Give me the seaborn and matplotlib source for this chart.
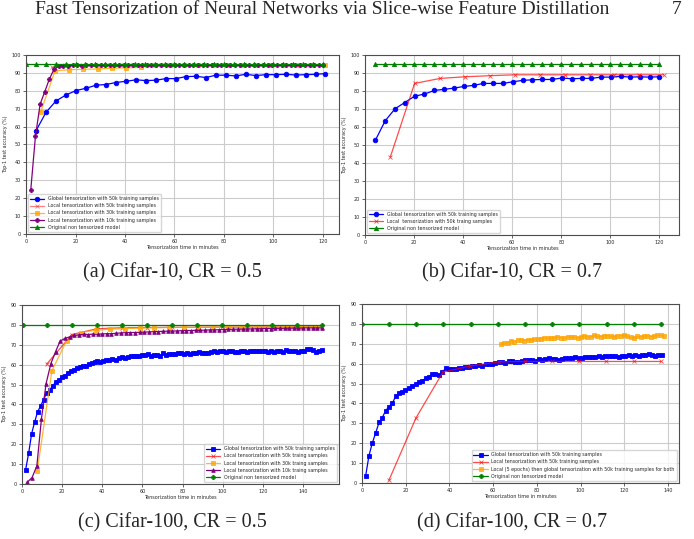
import matplotlib
matplotlib.use("Agg")
import matplotlib.pyplot as plt
import seaborn as sns

# (a) Cifar-10, CR = 0.5
a_glob_x = [4.0, 8.1, 12.1, 16.2, 20.2, 24.2, 28.3, 32.3, 36.3, 40.4,
            44.4, 48.5, 52.5, 56.5, 60.6, 64.6, 68.6, 72.7, 76.7, 80.8,
            84.8, 88.8, 92.9, 96.9, 100.9, 105.0, 109.0, 113.0, 117.0, 121.0]
a_glob_y = [57.6, 68.0, 74.3, 77.7, 80.1, 81.4, 83.1, 83.5, 84.6, 85.3,
            86.1, 85.7, 85.9, 86.8, 86.8, 87.9, 88.1, 87.4, 88.7, 88.7,
            88.3, 89.2, 88.5, 89.0, 89.0, 89.2, 88.8, 89.0, 89.2, 89.6]
a_loc50_x = [10.4, 15.9, 21.4, 26.9, 32.4, 37.9, 43.4, 48.9, 54.4, 59.9, 65.4,
             70.9, 76.4, 81.9, 87.4, 92.9, 98.4, 103.9, 109.4, 114.9, 120.4]
a_loc50_y = [93.1, 94.2, 94.3, 94.4, 94.4, 94.5, 94.4, 94.5, 94.5, 94.5, 94.5,
             94.5, 94.5, 94.5, 94.5, 94.5, 94.5, 94.5, 94.5, 94.5, 94.5]
a_loc30_x = [5.9, 11.7, 17.5, 23.1, 28.9, 34.7, 40.6, 46.4, 52.2, 58.0, 63.8,
             69.6, 75.4, 81.2, 87.0, 92.8, 98.6, 104.4, 110.2, 116.0, 121.0]
a_loc30_y = [68.0, 91.1, 91.8, 92.0, 92.2, 92.6, 92.8, 93.1, 94.3, 94.4, 94.4,
             94.4, 94.4, 94.5, 94.5, 94.5, 94.5, 94.5, 94.5, 94.5, 94.5]
a_loc10_x = [1.9, 3.8, 5.7, 7.5, 9.4, 11.3, 13.2, 15.0, 16.9, 18.8,
             20.7, 22.6, 24.4, 26.3, 28.2, 30.1, 31.9, 33.8, 35.7, 37.6,
             39.5, 41.3, 43.2, 45.1, 47.0, 48.8, 50.7, 52.6, 54.5, 56.4,
             58.2, 60.1, 62.0, 63.9, 65.7, 67.6, 69.5, 71.4, 73.3, 75.1,
             77.0, 78.9, 80.8, 82.6, 84.5, 86.4, 88.3, 90.2, 92.0, 93.9,
             95.8, 97.7, 99.5, 101.4, 103.3, 105.2, 107.1, 108.9, 110.8, 112.7,
             114.6, 116.4, 118.3, 120.2]
a_loc10_y = [24.3, 54.5, 72.5, 79.2, 86.4, 92.0, 93.7, 94.1, 94.1, 94.2,
             94.2, 94.1, 94.2, 94.3, 94.2, 94.3, 94.3, 94.2, 94.3, 94.3,
             94.4, 94.3, 94.3, 94.4, 94.3, 94.4, 94.4, 94.3, 94.4, 94.4,
             94.3, 94.4, 94.4, 94.4, 94.3, 94.4, 94.4, 94.4, 94.4, 94.3,
             94.4, 94.4, 94.4, 94.4, 94.4, 94.3, 94.4, 94.4, 94.4, 94.4,
             94.4, 94.4, 94.3, 94.4, 94.4, 94.4, 94.4, 94.4, 94.4, 94.3,
             94.4, 94.4, 94.4, 94.4]
a_orig_x = [0, 4, 8, 12, 16, 20, 24, 28, 32, 36, 40, 44, 48, 52, 56, 60,
            64, 68, 72, 76, 80, 84, 88, 92, 96, 100, 104, 108, 112, 116, 120]
a_orig_acc = 95.2

# (b) Cifar-10, CR = 0.7
b_glob_x = [4.2, 8.2, 12.2, 16.2, 20.2, 24.2, 28.3, 32.2, 36.3, 40.2,
            44.3, 48.2, 52.3, 56.3, 60.2, 64.3, 68.2, 72.3, 76.2, 80.3,
            84.2, 88.3, 92.3, 96.2, 100.2, 104.2, 108.2, 112.1, 116.0, 120.0]
b_glob_y = [52.6, 63.4, 70.1, 73.6, 77.1, 78.3, 80.3, 80.9, 81.6, 82.5,
            83.1, 84.2, 84.2, 84.2, 85.1, 85.9, 86.2, 86.4, 86.4, 87.2,
            86.8, 87.0, 87.0, 87.7, 87.7, 88.1, 87.7, 87.9, 87.7, 87.9]
b_loc50_x = [10.3, 20.2, 30.7, 40.9, 51.0, 61.1, 71.3, 81.5, 91.6, 101.6, 111.7, 121.7]
b_loc50_y = [43.3, 84.2, 87.0, 87.9, 88.5, 89.0, 89.0, 89.0, 89.0, 89.0, 89.0, 89.0]
b_orig_x = [4, 8, 12, 16, 20, 24, 28, 32, 36, 40, 44, 48, 52, 56, 60,
            64, 68, 72, 76, 80, 84, 88, 92, 96, 100, 104, 108, 112, 116, 120]
b_orig_acc = 95.2

# (c) Cifar-100, CR = 0.5
c_glob_x = [1.8, 3.3, 4.8, 6.3, 7.8, 9.3, 10.8, 12.3, 13.8, 15.3,
            16.8, 18.2, 19.7, 21.2, 22.7, 24.2, 25.7, 27.2, 28.7, 30.2,
            31.7, 33.2, 34.7, 36.2, 37.6, 39.1, 40.6, 42.1, 43.6, 45.1,
            46.6, 48.1, 49.6, 51.1, 52.6, 54.1, 55.6, 57.0, 58.5, 60.0,
            61.5, 63.0, 64.5, 66.0, 67.5, 69.0, 70.5, 72.0, 73.5, 75.0,
            76.4, 77.9, 79.4, 80.9, 82.4, 83.9, 85.4, 86.9, 88.4, 89.9,
            91.4, 92.9, 94.4, 95.8, 97.3, 98.8, 100.3, 101.8, 103.3, 104.8,
            106.3, 107.8, 109.3, 110.8, 112.3, 113.8, 115.2, 116.7, 118.2, 119.7,
            121.2, 122.7, 124.2, 125.7, 127.2, 128.7, 130.2, 131.7, 133.2, 134.6,
            136.1, 137.6, 139.1, 140.6, 142.1, 143.6, 145.1, 146.6, 148.1, 149.6]
c_glob_y = [7.2, 15.4, 25.3, 31.2, 36.4, 39.3, 42.5, 45.8, 47.5, 49.2,
            51.4, 52.2, 53.7, 54.2, 55.8, 56.8, 57.5, 58.4, 59.1, 59.4,
            59.6, 60.3, 60.9, 61.3, 61.8, 61.5, 62.0, 62.6, 62.3, 63.0,
            62.6, 63.3, 63.8, 63.6, 63.8, 64.3, 64.5, 64.3, 64.6, 65.1,
            65.0, 65.3, 64.6, 65.1, 65.0, 64.6, 66.0, 65.0, 65.6, 65.6,
            65.6, 65.8, 66.0, 65.6, 66.1, 65.6, 65.8, 66.1, 66.5, 66.1,
            65.8, 66.1, 66.3, 66.7, 66.3, 66.7, 66.7, 66.5, 66.7, 66.7,
            66.5, 66.5, 66.7, 66.8, 66.5, 67.0, 66.8, 67.0, 66.8, 67.0,
            66.8, 66.5, 66.7, 66.5, 66.7, 66.7, 66.5, 67.2, 67.0, 67.0,
            66.8, 66.5, 66.8, 67.0, 67.7, 68.0, 67.3, 66.5, 67.0, 67.2]
c_loc50_x = [12.3, 24.9, 37.3, 49.7, 62.2, 74.6, 87.0, 99.5, 112.0, 124.4, 136.9, 149.3]
c_loc50_y = [60.3, 75.2, 78.1, 78.6, 78.7, 78.8, 78.8, 78.9, 78.9, 79.0, 79.0, 79.0]
c_loc30_x = [7.6, 14.9, 22.2, 29.5, 36.8, 44.1, 51.4, 58.7, 66.0, 73.3,
             80.6, 87.9, 95.2, 102.5, 109.8, 117.1, 124.4, 131.7, 139.0, 146.3]
c_loc30_y = [6.7, 57.0, 72.0, 76.2, 77.4, 77.9, 78.2, 78.4, 78.6, 78.7,
             78.8, 78.8, 78.9, 78.9, 79.0, 79.0, 79.0, 79.1, 79.1, 79.1]
c_loc10_x = [2.7, 5.0, 7.4, 9.7, 12.0, 14.4, 16.7, 19.0, 21.3, 23.7,
             26.0, 28.3, 30.7, 33.0, 35.3, 37.7, 40.0, 42.3, 44.6, 47.0,
             49.3, 51.6, 54.0, 56.3, 58.6, 61.0, 63.3, 65.6, 67.9, 70.3,
             72.6, 74.9, 77.3, 79.6, 81.9, 84.3, 86.6, 88.9, 91.2, 93.6,
             95.9, 98.2, 100.6, 102.9, 105.2, 107.6, 109.9, 112.2, 114.5, 116.9,
             119.2, 121.5, 123.9, 126.2, 128.5, 130.9, 133.2, 135.5, 137.8, 140.2,
             142.5, 144.8, 147.2, 149.5]
c_loc10_y = [1.0, 3.2, 9.1, 32.9, 50.5, 60.6, 66.5, 71.9, 73.2, 74.0,
             74.7, 75.0, 75.3, 75.2, 75.4, 75.3, 75.5, 75.6, 75.6, 75.8,
             76.0, 76.1, 76.2, 76.2, 76.3, 76.4, 76.5, 76.6, 76.7, 76.8,
             76.9, 76.9, 77.0, 77.1, 77.2, 77.2, 77.3, 77.3, 77.4, 77.5,
             77.5, 77.6, 77.7, 77.8, 77.8, 77.9, 77.9, 78.0, 78.0, 78.1,
             78.1, 78.2, 78.2, 78.3, 78.3, 78.3, 78.4, 78.4, 78.4, 78.5,
             78.5, 78.5, 78.5, 78.5]
c_orig_x = [0.3, 12.6, 25.0, 37.5, 50.0, 62.2, 74.6, 87.0, 99.5, 112.0, 124.4, 137.0, 149.3]
c_orig_acc = 79.9

# (d) Cifar-100, CR = 0.7
d_glob_x = [1.7, 3.2, 4.7, 6.2, 7.8, 9.3, 10.8, 12.3, 13.8, 15.4,
            16.9, 18.4, 19.9, 21.5, 23.0, 24.5, 26.0, 27.5, 29.1, 30.6,
            32.1, 33.6, 35.2, 36.7, 38.2, 39.7, 41.2, 42.8, 44.3, 45.8,
            47.3, 48.9, 50.4, 51.9, 53.4, 54.9, 56.5, 58.0, 59.5, 61.0,
            62.6, 64.1, 65.6, 67.1, 68.6, 70.2, 71.7, 73.2, 74.7, 76.3,
            77.8, 79.3, 80.8, 82.3, 83.9, 85.4, 86.9, 88.4, 90.0, 91.5,
            93.0, 94.5, 96.0, 97.6, 99.1, 100.6, 102.1, 103.7, 105.2, 106.7,
            108.2, 109.7, 111.3, 112.8, 114.3, 115.8, 117.4, 118.9, 120.4, 121.9,
            123.4, 125.0, 126.5, 128.0, 129.5, 131.1, 132.6, 134.1, 135.6, 137.1]
d_glob_y = [3.7, 13.8, 20.0, 25.0, 30.4, 32.9, 36.3, 38.3, 40.0, 43.5,
            45.0, 45.5, 46.8, 47.9, 48.7, 49.7, 51.0, 51.5, 52.6, 53.4,
            54.6, 54.6, 54.2, 55.6, 57.6, 57.3, 57.4, 57.3, 57.9, 58.0,
            58.3, 58.5, 58.8, 59.0, 59.2, 59.0, 59.6, 60.0, 59.7, 60.3,
            60.6, 60.8, 60.5, 61.2, 61.4, 61.0, 60.7, 61.2, 61.7, 61.8,
            61.8, 61.3, 62.2, 61.9, 62.4, 62.6, 62.3, 62.5, 62.0, 62.5,
            62.7, 63.0, 62.8, 63.2, 62.8, 63.0, 63.3, 63.2, 63.4, 63.3,
            64.0, 63.2, 63.8, 64.0, 63.6, 63.9, 63.4, 64.0, 63.6, 64.2,
            63.8, 64.3, 64.0, 64.1, 64.5, 64.8, 64.3, 64.0, 64.1, 64.1]
d_loc50_x = [12.3, 24.7, 37.0, 49.5, 62.7, 74.7, 87.0, 99.4, 111.7, 124.2, 136.7]
d_loc50_y = [1.3, 32.7, 55.7, 58.8, 60.9, 61.1, 61.1, 61.1, 61.1, 61.1, 61.1]
d_mixed_x = [63.6, 65.1, 66.6, 68.2, 69.7, 71.2, 72.7, 74.2, 75.8, 77.3,
             78.8, 80.3, 81.8, 83.4, 84.9, 86.4, 87.9, 89.4, 91.0, 92.5,
             94.0, 95.5, 97.0, 98.6, 100.1, 101.6, 103.1, 104.6, 106.2, 107.7,
             109.2, 110.7, 112.2, 113.8, 115.3, 116.8, 118.3, 119.8, 121.4, 122.9,
             124.4, 125.9, 127.4, 129.0, 130.5, 132.0, 133.5, 135.0, 136.6, 138.1]
d_mixed_y = [69.8, 70.3, 70.5, 71.6, 70.8, 71.9, 72.0, 71.6, 72.1, 72.0,
             72.4, 72.2, 72.6, 73.0, 72.7, 73.1, 72.8, 73.4, 73.1, 72.9,
             73.4, 73.2, 73.4, 73.0, 73.5, 74.0, 73.6, 73.4, 74.2, 73.7,
             73.6, 74.0, 74.1, 73.7, 73.5, 73.9, 74.1, 74.2, 73.8, 73.3,
             72.9, 73.7, 73.5, 73.8, 74.0, 73.6, 73.8, 74.3, 74.2, 73.9]
d_orig_x = [0.0, 12.3, 24.8, 37.1, 49.8, 62.1, 74.6, 87.0, 99.4, 111.9, 124.2, 136.8]
d_orig_acc = 79.9

lbl_glob = "Global tensorization with 50k training samples"
lbl_orig = "Original non tensorized model"

sns.set_theme(style="whitegrid")
plt.rcParams.update({
    "font.family": ["DejaVu Sans"],
    "axes.edgecolor": "0.3",
    "axes.linewidth": 0.8,
    "grid.color": "0.8",
    "grid.linewidth": 0.8,
    "xtick.bottom": True,
    "ytick.left": True,
    "xtick.major.size": 2,
    "ytick.major.size": 2,
    "xtick.major.width": 0.5,
    "ytick.major.width": 0.5,
    "xtick.major.pad": 1.5,
    "ytick.major.pad": 1.5,
    "xtick.labelsize": 3.5,
    "ytick.labelsize": 3.5,
})

fig = plt.figure(figsize=(6.94, 5.39), dpi=100)


def line(ax, xs, ys, color, marker, label, alpha=1.0, ms=3):
    sns.lineplot(x=xs, y=ys, ax=ax, color=color, marker=marker, markersize=ms,
                 markeredgecolor=color, markeredgewidth=0.6, linewidth=0.9,
                 alpha=alpha, label=label)


def finish(ax, xmax, ymax, loc):
    ax.set_xlim(0, xmax)
    ax.set_ylim(0, ymax)
    ax.set_yticks(range(0, ymax + 1, 10))
    ax.set_xlabel("Tensorization time in minutes", fontsize=3.5, labelpad=1)
    ax.set_ylabel("Top-1 test accuracy (%)", fontsize=3.5, labelpad=3)
    ax.legend(loc=loc, fontsize=3.4, frameon=True, borderpad=0.4,
              handlelength=3, labelspacing=0.45, framealpha=0.8)


# (a)
ax = fig.add_axes([0.0375, 0.566, 0.451, 0.332])
line(ax, a_glob_x, a_glob_y, "blue", "o", lbl_glob, ms=3.3)
line(ax, a_loc50_x, a_loc50_y, "red", "x", "Local tensorization with 50k training samples", 0.5)
line(ax, a_loc30_x, a_loc30_y, "orange", "s", "Local tensorization with 30k training samples", 0.8)
line(ax, a_loc10_x, a_loc10_y, "purple", "P", "Local tensorization with 10k training samples")
line(ax, a_orig_x, [a_orig_acc] * len(a_orig_x), "green", "^", lbl_orig)
finish(ax, 126.5, 100, "lower left")

# (b)
ax = fig.add_axes([0.526, 0.564, 0.4524, 0.334])
line(ax, b_glob_x, b_glob_y, "blue", "o", lbl_glob, ms=3.3)
line(ax, b_loc50_x, b_loc50_y, "red", "x", "Local  tensorization with 50k traing samples", 0.7)
line(ax, b_orig_x, [b_orig_acc] * len(b_orig_x), "green", "^", lbl_orig)
finish(ax, 128, 100, "lower left")

# (c)
ax = fig.add_axes([0.0317, 0.102, 0.4568, 0.332])
line(ax, c_glob_x, c_glob_y, "blue", "s", lbl_glob, ms=2.6)
line(ax, c_loc50_x, c_loc50_y, "red", "x", "Local tensorization with 50k traing samples", 0.7)
line(ax, c_loc30_x, c_loc30_y, "orange", "s", "Local tensorization with 30k traing samples", 0.8)
line(ax, c_loc10_x, c_loc10_y, "purple", "^", "Local tensorization with 10k traing samples", ms=2.6)
line(ax, c_orig_x, [c_orig_acc] * len(c_orig_x), "green", "P", lbl_orig)
finish(ax, 158, 90, "lower right")

# (d)
ax = fig.add_axes([0.5216, 0.104, 0.4568, 0.332])
line(ax, d_glob_x, d_glob_y, "blue", "s", lbl_glob, ms=2.6)
line(ax, d_loc50_x, d_loc50_y, "red", "x", "Local tensorization with 50k training samples", 0.7)
line(ax, d_mixed_x, d_mixed_y, "orange", "s",
     "Local (5 epochs) then global tensorization with 50k training samples for both", 0.8, ms=2.6)
line(ax, d_orig_x, [d_orig_acc] * len(d_orig_x), "green", "P", lbl_orig)
finish(ax, 145, 90, "lower right")

# page header and sub-captions
serif = ["Liberation Serif", "DejaVu Serif"]
fig.text(0.05, 0.982, "Fast Tensorization of Neural Networks via Slice-wise Feature Distillation",
         family=serif, fontsize=14, va="center", ha="left")
fig.text(0.982, 0.982, "7", family=serif, fontsize=14, va="center", ha="right")
fig.text(0.248, 0.4935, "(a) Cifar-10, CR = 0.5", family=serif, fontsize=14.5, ha="center", va="center")
fig.text(0.738, 0.4935, "(b) Cifar-10, CR = 0.7", family=serif, fontsize=14.5, ha="center", va="center")
fig.text(0.249, 0.0297, "(c) Cifar-100, CR = 0.5", family=serif, fontsize=14.5, ha="center", va="center")
fig.text(0.738, 0.0297, "(d) Cifar-100, CR = 0.7", family=serif, fontsize=14.5, ha="center", va="center")

fig.savefig("out.png", dpi=100)
